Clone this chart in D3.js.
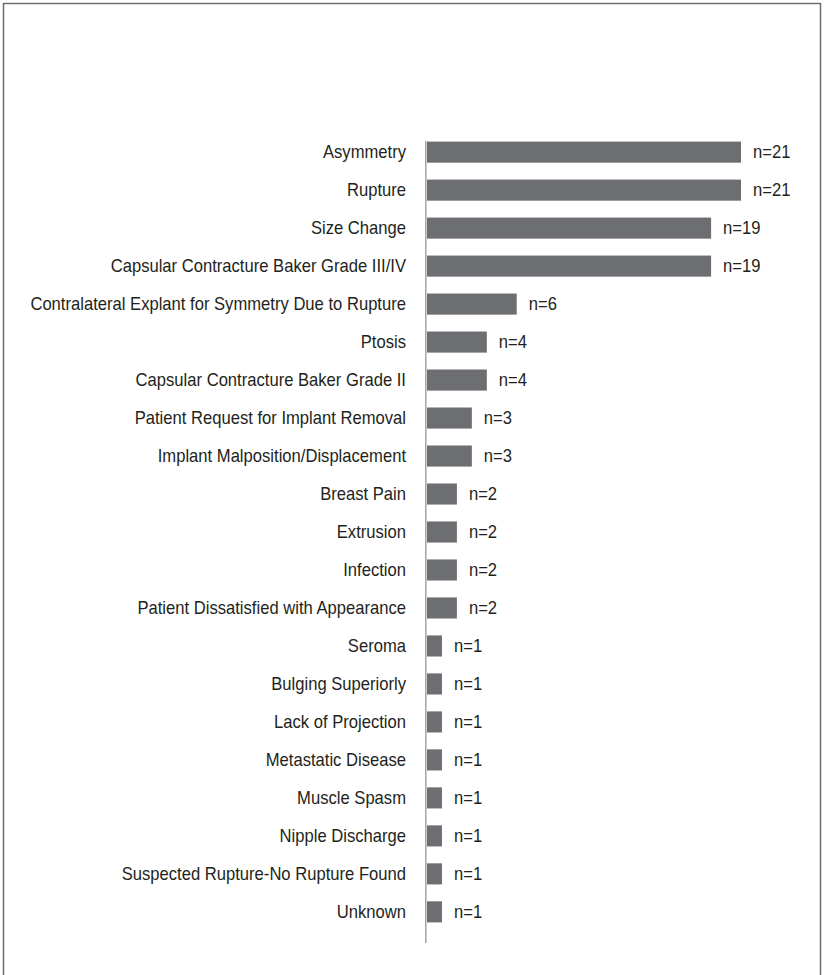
<!DOCTYPE html>
<html>
<head>
<meta charset="utf-8">
<script src="https://cdn.jsdelivr.net/npm/d3@7"></script>
<style>
  body { margin: 0; background: #fff; }
  svg { display: block; }
  text { font-family: "Liberation Sans", Arial, sans-serif; font-size: 17.5px; fill: #231f20; }
</style>
</head>
<body>
<svg id="chart" width="824" height="975"></svg>
<script>
const categories = [
  'Asymmetry',
  'Rupture',
  'Size Change',
  'Capsular Contracture Baker Grade III/IV',
  'Contralateral Explant for Symmetry Due to Rupture',
  'Ptosis',
  'Capsular Contracture Baker Grade II',
  'Patient Request for Implant Removal',
  'Implant Malposition/Displacement',
  'Breast Pain',
  'Extrusion',
  'Infection',
  'Patient Dissatisfied with Appearance',
  'Seroma',
  'Bulging Superiorly',
  'Lack of Projection',
  'Metastatic Disease',
  'Muscle Spasm',
  'Nipple Discharge',
  'Suspected Rupture-No Rupture Found',
  'Unknown'
];
const counts = [21, 21, 19, 19, 6, 4, 4, 3, 3, 2, 2, 2, 2, 1, 1, 1, 1, 1, 1, 1, 1];

const svg = d3.select('#chart');
const squeeze = 0.95; // condensed look of the original type

// frame (open at the bottom, cropped)
svg.append('path')
  .attr('d', 'M3.5,975 V3.5 H820.5 V975')
  .attr('fill', 'none')
  .attr('stroke', '#6d6e71')
  .attr('stroke-width', 1.5);

const x0 = 427;
const x = d3.scaleLinear([0, 21], [x0, 741]);
const y = d3.scaleBand(categories, [134, 930]).paddingInner(0.445).paddingOuter(0.2);
const cy = (d) => y(d) + y.bandwidth() / 2;

svg.append('g')
  .selectAll('rect')
  .data(categories)
  .join('rect')
  .attr('x', x0)
  .attr('y', (d) => y(d))
  .attr('width', (d, i) => x(counts[i]) - x0)
  .attr('height', y.bandwidth())
  .attr('fill', '#6d6e71');

svg.append('g')
  .selectAll('text')
  .data(categories)
  .join('text')
  .attr('transform', (d) => `translate(406,${cy(d)}) scale(${squeeze},1)`)
  .attr('dy', '0.35em')
  .attr('text-anchor', 'end')
  .text((d) => d);

svg.append('g')
  .selectAll('text')
  .data(categories)
  .join('text')
  .attr('transform', (d, i) => `translate(${x(counts[i]) + 12},${cy(d)}) scale(${squeeze},1)`)
  .attr('dy', '0.35em')
  .text((d, i) => 'n=' + counts[i]);

// axis line
svg.append('line')
  .attr('x1', x0 - 1.2).attr('x2', x0 - 1.2)
  .attr('y1', 141).attr('y2', 943)
  .attr('stroke', '#a7a9ac')
  .attr('stroke-width', 1.6);
</script>
</body>
</html>
